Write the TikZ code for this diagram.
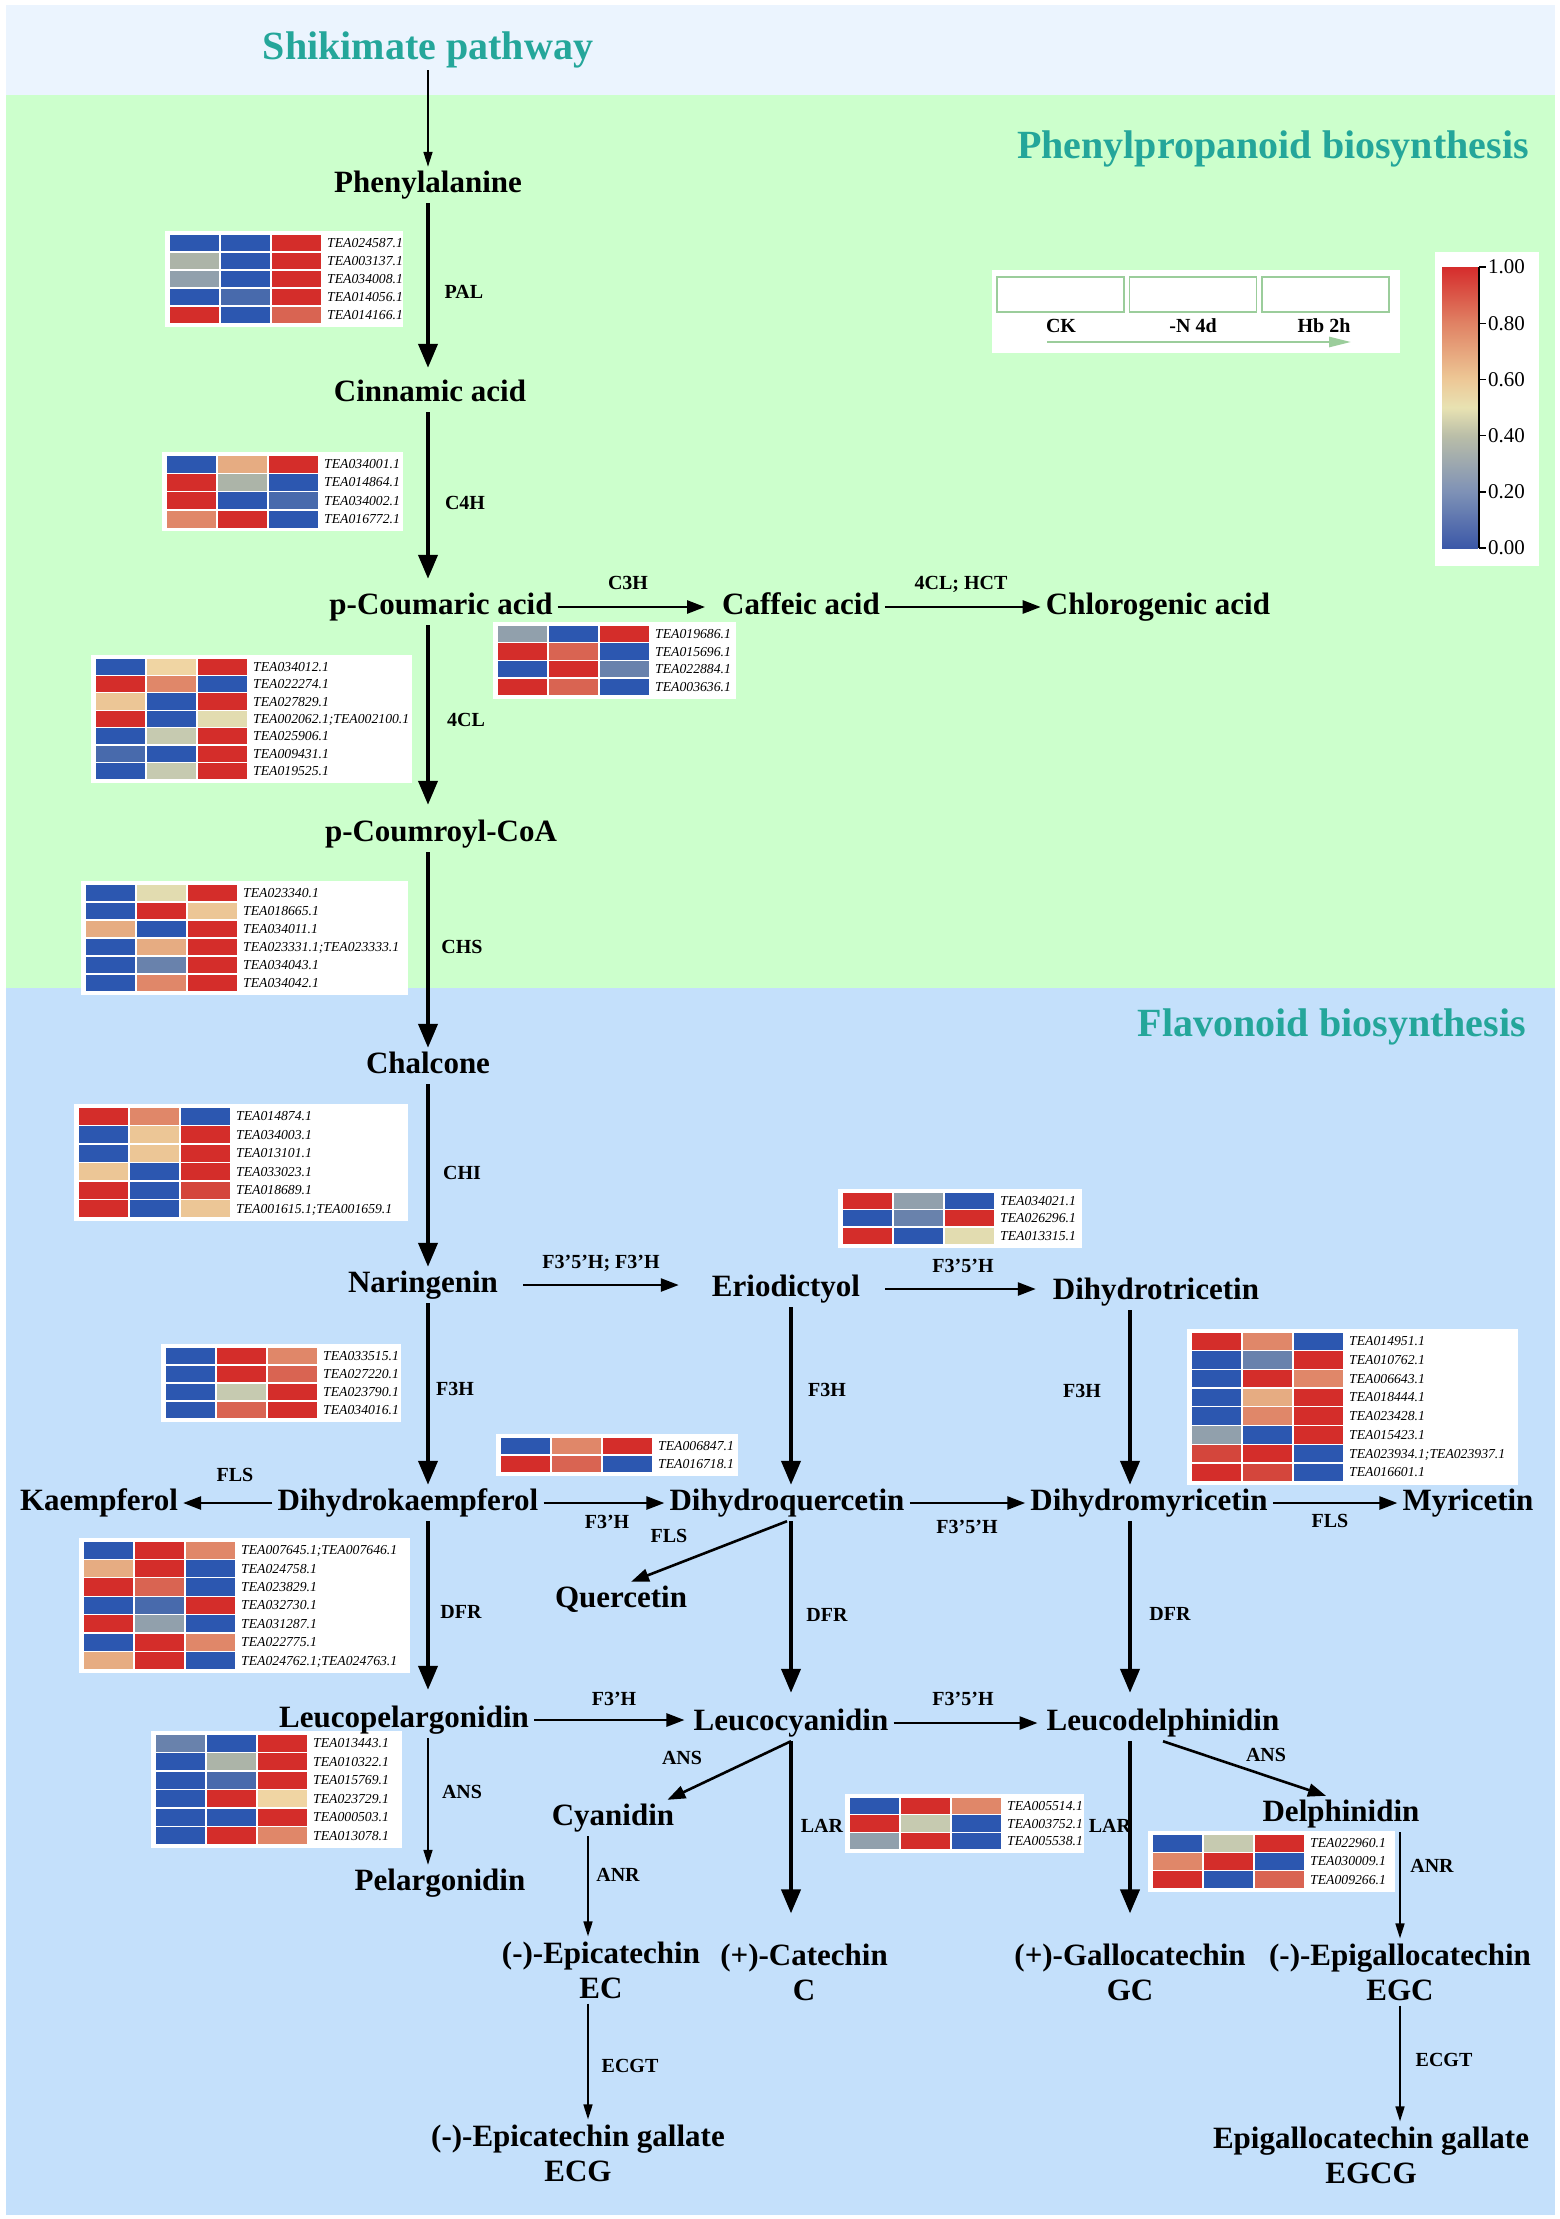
\documentclass[tikz,border=0pt]{standalone}
\usepackage{fontspec}
\setmainfont{Liberation Serif}
\usetikzlibrary{arrows.meta,positioning}

\definecolor{bandtop}{RGB}{235,244,254}
\definecolor{bandgreen}{RGB}{204,255,204}
\definecolor{bandblue}{RGB}{196,224,251}
\definecolor{titleteal}{RGB}{36,166,154}
\definecolor{lgreen}{RGB}{155,205,155}
% heat map levels, blue (low) to red (high)
\definecolor{hm0}{RGB}{44,87,176}
\definecolor{hm1}{RGB}{72,106,172}
\definecolor{hm15}{RGB}{105,130,172}
\definecolor{hm2}{RGB}{145,160,172}
\definecolor{hm25}{RGB}{172,180,168}
\definecolor{hm3}{RGB}{198,202,176}
\definecolor{hm4}{RGB}{226,220,176}
\definecolor{hm45}{RGB}{240,213,163}
\definecolor{hm5}{RGB}{236,198,150}
\definecolor{hm6}{RGB}{230,172,130}
\definecolor{hm7}{RGB}{224,135,105}
\definecolor{hm8}{RGB}{217,100,82}
\definecolor{hm85}{RGB}{212,70,60}
\definecolor{hm9}{RGB}{212,45,42}
% colour bar stops
\definecolor{cb0}{RGB}{59,88,168}
\definecolor{cb2}{RGB}{126,145,182}
\definecolor{cb4}{RGB}{186,190,168}
\definecolor{cb5}{RGB}{232,226,178}
\definecolor{cb6}{RGB}{237,200,150}
\definecolor{cb8}{RGB}{224,130,100}
\definecolor{cb10}{RGB}{213,44,44}

\tikzstyle{cpd} = [font=\fontsize{31}{35}\selectfont\bfseries, text height=20pt, text depth=6pt, inner sep=5pt]
\tikzstyle{cpdtwo} = [font=\fontsize{31}{35}\selectfont\bfseries, align=center, inner sep=5pt]
\tikzstyle{enz} = [font=\fontsize{20}{22}\selectfont\bfseries, inner sep=1pt]
\tikzstyle{pathtitle} = [font=\fontsize{40}{44}\selectfont\bfseries, text=titleteal, inner sep=2pt]
\tikzstyle{gene} = [font=\fontsize{13.7}{15}\selectfont\itshape, anchor=west, inner sep=0pt, text height=9pt, text depth=0pt]
\tikzstyle{hcell} = [draw=white, line width=1.3pt]
\tikzstyle{lgbox} = [draw=lgreen, line width=1.5pt, minimum width=127pt, minimum height=35pt]
\tikzstyle{lgtext} = [font=\fontsize{20}{22}\selectfont\bfseries, inner sep=1pt]
\tikzstyle{lgarrow} = [draw=lgreen, line width=2.5pt, -{Triangle[width=10pt,length=22pt]}]
\tikzstyle{cbtext} = [font=\fontsize{21}{23}\selectfont, anchor=west, inner sep=1pt]
\tikzstyle{bigarrow} = [line width=4pt, -{Triangle[width=19pt,length=24pt]}]
\tikzstyle{medarrow} = [line width=2.6pt, -{Triangle[width=13pt,length=18pt]}]
\tikzstyle{thinarrow} = [line width=1.6pt, -{Triangle[width=9pt,length=15pt]}]

% #1 name, #2 left, #3 top, #4 right edge, #5 row height, #6 rows
\newcommand{\hmap}[6]{%
  \begin{scope}[shift={(#2,#3)}]
    \foreach \ca/\cb/\cc/\gid [count=\i from 0] in {#6}
      \fill[white] (-4,\i*#5-3) rectangle (#4-#2,\i*#5+#5+3);
    \foreach \ca/\cb/\cc/\gid [count=\i from 0] in {#6} {
      \draw[hcell, fill=\ca] (0,\i*#5) rectangle ++(51,#5);
      \draw[hcell, fill=\cb] (51,\i*#5) rectangle ++(51,#5);
      \draw[hcell, fill=\cc] (102,\i*#5) rectangle ++(51,#5);
      \node (#1-\i) [gene] at (158,\i*#5+#5/2) {\gid};
    }
  \end{scope}}

\begin{document}
\begin{tikzpicture}[x=1pt,y=-1pt]
\useasboundingbox (0,0) rectangle (1560,2219);

% bands
\fill[bandtop] (6,5) rectangle (1555,95);
\fill[bandgreen] (6,95) rectangle (1555,988);
\fill[bandblue] (6,988) rectangle (1555,2215);

\node (tshik) [pathtitle] at (428,50) {Shikimate pathway};
\node (tphen) [pathtitle, anchor=east] at (1531,149) {Phenylpropanoid biosynthesis};
\node (tflav) [pathtitle, anchor=east] at (1528,1027) {Flavonoid biosynthesis};

% legend
\fill[white] (992,270) rectangle (1400,353);
\node (lg1) [lgbox] at (1060.5,294.5) {};
\node (lg2) [lgbox] at (1193,294.5) {};
\node (lg3) [lgbox] at (1325.5,294.5) {};
\node (lgCK) [lgtext] at (1061,326) {CK};
\node (lgN) [lgtext] at (1193,326) {-N 4d};
\node (lgHb) [lgtext] at (1324,326) {Hb 2h};
\coordinate (lgA) at (1047,342);
\coordinate (lgB) at (1351,342);
\draw [lgarrow] (lgA) -- (lgB);

% colour bar
\fill[white] (1435,252) rectangle (1539,566);
\foreach \ya/\yb/\cbot/\ctop in {548/491.8/cb0/cb2, 491.8/435.6/cb2/cb4, 435.6/407.5/cb4/cb5, 407.5/379.4/cb5/cb6, 379.4/323.2/cb6/cb8, 323.2/267/cb8/cb10}
  \shade[bottom color=\cbot, top color=\ctop] (1442,\ya) rectangle (1478,\yb);
\draw[line width=1.4pt] (1479,267) -- (1479,548);
\foreach \v/\y [count=\k] in {0.00/548, 0.20/491.8, 0.40/435.6, 0.60/379.4, 0.80/323.2, 1.00/267} {
  \draw[line width=1.4pt] (1479,\y) -- (1486,\y);
  \node (cbt\k) [cbtext] at (1487,\y) {\v};
}

% heat maps
\hmap{pal}{169}{234}{403}{18}{hm0/hm0/hm9/TEA024587.1, hm25/hm0/hm9/TEA003137.1, hm2/hm0/hm9/TEA034008.1, hm0/hm1/hm9/TEA014056.1, hm9/hm0/hm8/TEA014166.1}
\hmap{cfh}{166}{455}{403}{18.3}{hm0/hm6/hm9/TEA034001.1, hm9/hm25/hm0/TEA014864.1, hm9/hm0/hm1/TEA034002.1, hm7/hm9/hm0/TEA016772.1}
\hmap{cth}{497}{625}{736}{17.7}{hm2/hm0/hm9/TEA019686.1, hm9/hm8/hm0/TEA015696.1, hm0/hm9/hm15/TEA022884.1, hm9/hm8/hm0/TEA003636.1}
\hmap{fcl}{95}{658}{412}{17.4}{hm0/hm45/hm9/TEA034012.1, hm9/hm7/hm0/TEA022274.1, hm5/hm0/hm9/TEA027829.1, hm9/hm0/hm4/TEA002062.1;TEA002100.1, hm0/hm3/hm9/TEA025906.1, hm1/hm0/hm9/TEA009431.1, hm0/hm3/hm9/TEA019525.1}
\hmap{chs}{85}{884}{408}{18}{hm0/hm4/hm9/TEA023340.1, hm0/hm9/hm5/TEA018665.1, hm6/hm0/hm9/TEA034011.1, hm0/hm6/hm9/TEA023331.1;TEA023333.1, hm0/hm15/hm9/TEA034043.1, hm0/hm7/hm9/TEA034042.1}
\hmap{chi}{78}{1107}{408}{18.5}{hm9/hm7/hm0/TEA014874.1, hm0/hm5/hm9/TEA034003.1, hm0/hm5/hm9/TEA013101.1, hm5/hm0/hm9/TEA033023.1, hm9/hm0/hm85/TEA018689.1, hm9/hm0/hm5/TEA001615.1;TEA001659.1}
\hmap{ffh}{842}{1192}{1082}{17.5}{hm9/hm2/hm0/TEA034021.1, hm0/hm15/hm9/TEA026296.1, hm9/hm0/hm4/TEA013315.1}
\hmap{fth}{165}{1347}{401}{18}{hm0/hm9/hm7/TEA033515.1, hm0/hm9/hm8/TEA027220.1, hm0/hm3/hm9/TEA023790.1, hm0/hm8/hm9/TEA034016.1}
\hmap{dhqh}{500}{1437}{738}{18}{hm0/hm7/hm9/TEA006847.1, hm9/hm8/hm0/TEA016718.1}
\hmap{dhmh}{1191}{1332}{1518}{18.7}{hm9/hm7/hm0/TEA014951.1, hm0/hm15/hm9/TEA010762.1, hm0/hm9/hm7/TEA006643.1, hm0/hm6/hm9/TEA018444.1, hm0/hm7/hm9/TEA023428.1, hm2/hm0/hm9/TEA015423.1, hm85/hm9/hm0/TEA023934.1;TEA023937.1, hm9/hm85/hm0/TEA016601.1}
\hmap{dfrh}{83}{1541}{410}{18.4}{hm0/hm9/hm7/TEA007645.1;TEA007646.1, hm6/hm9/hm0/TEA024758.1, hm9/hm8/hm0/TEA023829.1, hm0/hm1/hm9/TEA032730.1, hm9/hm2/hm0/TEA031287.1, hm0/hm9/hm7/TEA022775.1, hm6/hm9/hm0/TEA024762.1;TEA024763.1}
\hmap{ansh}{155}{1734}{402}{18.5}{hm15/hm0/hm9/TEA013443.1, hm0/hm25/hm9/TEA010322.1, hm0/hm1/hm9/TEA015769.1, hm0/hm9/hm45/TEA023729.1, hm0/hm0/hm9/TEA000503.1, hm0/hm9/hm7/TEA013078.1}
\hmap{larh}{849}{1797}{1084}{17.7}{hm0/hm9/hm7/TEA005514.1, hm9/hm3/hm0/TEA003752.1, hm2/hm9/hm0/TEA005538.1}
\hmap{anrh}{1152}{1834}{1395}{18.3}{hm0/hm3/hm9/TEA022960.1, hm7/hm9/hm0/TEA030009.1, hm9/hm0/hm8/TEA009266.1}

% compounds
\node (phe) [cpd] at (428,185) {Phenylalanine};
\node (cin) [cpd] at (430,394) {Cinnamic acid};
\node (pcou) [cpd] at (441,607) {p-Coumaric acid};
\node (caf) [cpd] at (801,607) {Caffeic acid};
\node (chl) [cpd] at (1158,607) {Chlorogenic acid};
\node (pcoa) [cpd] at (441,834) {p-Coumroyl-CoA};
\node (chal) [cpd] at (428,1066) {Chalcone};
\node (nar) [cpd] at (423,1285) {Naringenin};
\node (erio) [cpd] at (786,1289) {Eriodictyol};
\node (dht) [cpd] at (1156,1292) {Dihydrotricetin};
\node (kae) [cpd] at (99,1503) {Kaempferol};
\node (dhk) [cpd] at (408,1503) {Dihydrokaempferol};
\node (dhq) [cpd] at (787,1503) {Dihydroquercetin};
\node (dhm) [cpd] at (1149,1503) {Dihydromyricetin};
\node (myr) [cpd] at (1468,1503) {Myricetin};
\node (que) [cpd] at (621,1600) {Quercetin};
\node (lpel) [cpd] at (404,1720) {Leucopelargonidin};
\node (lcya) [cpd] at (791,1723) {Leucocyanidin};
\node (ldel) [cpd] at (1163,1723) {Leucodelphinidin};
\node (pel) [cpd] at (440,1883) {Pelargonidin};
\node (cya) [cpd] at (613,1818) {Cyanidin};
\node (del) [cpd] at (1341,1814) {Delphinidin};
\node (ec) [cpdtwo] at (601,1970) {(-)-Epicatechin\\EC};
\node (cat) [cpdtwo] at (804,1972) {(+)-Catechin\\C};
\node (gc) [cpdtwo] at (1130,1972) {(+)-Gallocatechin\\GC};
\node (egc) [cpdtwo] at (1400,1972) {(-)-Epigallocatechin\\EGC};
\node (ecg) [cpdtwo] at (578,2153) {(-)-Epicatechin gallate\\ECG};
\node (egcg) [cpdtwo] at (1371,2155) {Epigallocatechin gallate\\EGCG};

% enzymes
\node (ePAL) [enz] at (464,292) {PAL};
\node (eCFH) [enz] at (465,503) {C4H};
\node (eCTH) [enz] at (628,583) {C3H};
\node (eHCT) [enz] at (961,584) {4CL; HCT};
\node (eFCL) [enz] at (466,720) {4CL};
\node (eCHS) [enz] at (462,947) {CHS};
\node (eCHI) [enz] at (462,1173) {CHI};
\node (eNE) [enz] at (601,1263) {F3'5'H; F3'H};
\node (eED) [enz] at (963,1266) {F3'5'H};
\node (eFA) [enz] at (455,1389) {F3H};
\node (eFB) [enz] at (827,1390) {F3H};
\node (eFC) [enz] at (1082,1391) {F3H};
\node (eFLa) [enz] at (235,1475) {FLS};
\node (eKQ) [enz] at (607,1522) {F3'H};
\node (eFLb) [enz] at (669,1536) {FLS};
\node (eQM) [enz] at (967,1527) {F3'5'H};
\node (eFLc) [enz] at (1330,1521) {FLS};
\node (eDA) [enz] at (461,1612) {DFR};
\node (eDB) [enz] at (827,1615) {DFR};
\node (eDC) [enz] at (1170,1614) {DFR};
\node (ePC) [enz] at (614,1699) {F3'H};
\node (eCD) [enz] at (963,1699) {F3'5'H};
\node (eANa) [enz] at (462,1792) {ANS};
\node (eANb) [enz] at (682,1758) {ANS};
\node (eLRa) [enz] at (822,1826) {LAR};
\node (eANc) [enz] at (1266,1755) {ANS};
\node (eLRb) [enz] at (1110,1826) {LAR};
\node (eNRa) [enz] at (618,1875) {ANR};
\node (eNRb) [enz] at (1432,1866) {ANR};
\node (eEGa) [enz] at (630,2066) {ECGT};
\node (eEGb) [enz] at (1444,2060) {ECGT};

% main column
\draw [thinarrow] (tshik) -- (phe);
\draw [bigarrow, shorten >=8pt] (phe.south) -- (phe.south |- cin.north);
\draw [bigarrow, shorten >=10pt] (cin.south -| phe) -- (pcou.north -| phe);
\draw [bigarrow, shorten >=11pt] (pcou.south -| phe) -- (pcoa.north -| phe);
\draw [bigarrow] (pcoa.south -| phe) -- (chal.north -| phe);
\draw [bigarrow] (chal.south -| phe) -- (nar.north -| phe);
\draw [bigarrow] (nar.south -| phe) -- (dhk.north -| phe);
\draw [bigarrow, shorten >=12pt] (dhk.south -| phe) -- (lpel.north -| phe);
\draw [thinarrow] (lpel.south -| phe) -- (pel.north -| phe);

% side branches
\draw [medarrow, shorten >=12pt] (pcou) -- (caf);
\draw [medarrow] (caf) -- (chl);
\draw [medarrow, shorten <=20pt, shorten >=28pt] (nar.east) -- (nar.east -| erio.west);
\draw [medarrow, shorten <=20pt, shorten >=12pt] (erio.east) -- (erio.east -| dht.west);
\draw [medarrow] (dhk) -- (kae);
\draw [medarrow] (dhk) -- (dhq);
\draw [medarrow] (dhq) -- (dhm);
\draw [medarrow] (dhm) -- (myr);
\draw [medarrow, shorten >=4pt] (lpel.east) -- (lpel.east -| lcya.west);
\draw [medarrow, shorten >=4pt] (lcya) -- (ldel);

% middle and right columns
\draw [bigarrow] (erio.south -| lcya) -- (dhq.north -| lcya);
\draw [bigarrow] (dht.south -| gc) -- (dhm.north -| gc);
\draw [bigarrow, shorten >=12pt] (dhq.south -| lcya) -- (lcya.north);
\draw [bigarrow, shorten >=12pt] (dhm.south -| gc) -- (ldel.north -| gc);
\draw [medarrow] (dhq.south) -- ([xshift=10pt]que.north);
\draw [medarrow] (lcya.south) -- ([xshift=-12pt]cya.north east);
\draw [medarrow] (ldel.south) -- ([xshift=-15pt]del.north);
\draw [bigarrow, shorten >=25pt] (lcya.south) -- (lcya.south |- cat.north);
\draw [bigarrow, shorten >=25pt] (ldel.south -| gc) -- (gc.north);
\draw [thinarrow] ([xshift=-25pt]cya.south) -- ([xshift=-25pt]cya.south |- ec.north);
\draw [thinarrow] (del.south -| egc) -- (egc.north);
\draw [thinarrow] ([xshift=-13pt]ec.south) -- ([xshift=-13pt]ec.south |- ecg.north);
\draw [thinarrow] (egc.south) -- (egc.south |- egcg.north);

\end{tikzpicture}
\end{document}
